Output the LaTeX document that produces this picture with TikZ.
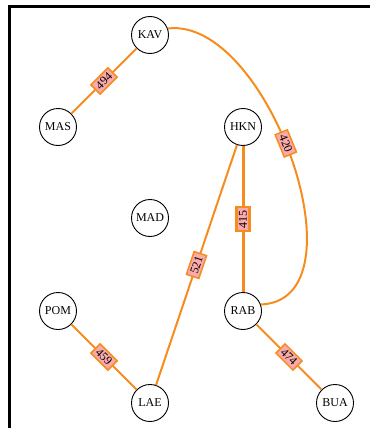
\documentclass[tikz,border=0pt]{standalone}
\usepackage{fontspec}
\setmainfont{Liberation Serif}
\definecolor{edgeorange}{RGB}{247,140,30}
\definecolor{labelpink}{RGB}{250,170,170}
\begin{document}
\begin{tikzpicture}[x=1pt,y=-1pt,
  city/.style={circle,draw=black,line width=0.9pt,fill=white,minimum size=37pt,inner sep=1pt,font=\fontsize{12}{13}\selectfont},
  road/.style={draw=edgeorange,line width=2pt},
  mainroad/.style={draw=edgeorange,line width=3pt},
  dist/.style={draw=edgeorange,fill=labelpink,line width=1.5pt,inner xsep=3pt,inner ysep=2.5pt,font=\fontsize{12}{13}\selectfont,sloped,pos=0.5},
  maindist/.style={dist,line width=2.5pt}]
\useasboundingbox (0,0) rectangle (370,428);
\draw[line width=3pt] (9,428) -- (9,6.5) -- (370,6.5);
\node[city] (KAV) at (150,35) {KAV};
\node[city] (MAS) at (58,127) {MAS};
\node[city] (HKN) at (243,127) {HKN};
\node[city] (MAD) at (150,218) {MAD};
\node[city] (POM) at (58,311) {POM};
\node[city] (RAB) at (243,311) {RAB};
\node[city] (LAE) at (150,403) {LAE};
\node[city] (BUA) at (335,403) {BUA};
\draw[road] (MAS) -- node[dist] {494} (KAV);
\draw[road] (POM) -- node[dist] {459} (LAE);
\draw[road] (RAB) -- node[dist] {474} (BUA);
\draw[road] (LAE) -- node[dist] {521} (HKN);
\draw[mainroad] (RAB) -- node[maindist] {415} (HKN);
\draw[road] (KAV.20) .. controls (268,16) and (368,300) .. node[dist,pos=0.46] {420} (RAB.20);
\end{tikzpicture}
\end{document}
